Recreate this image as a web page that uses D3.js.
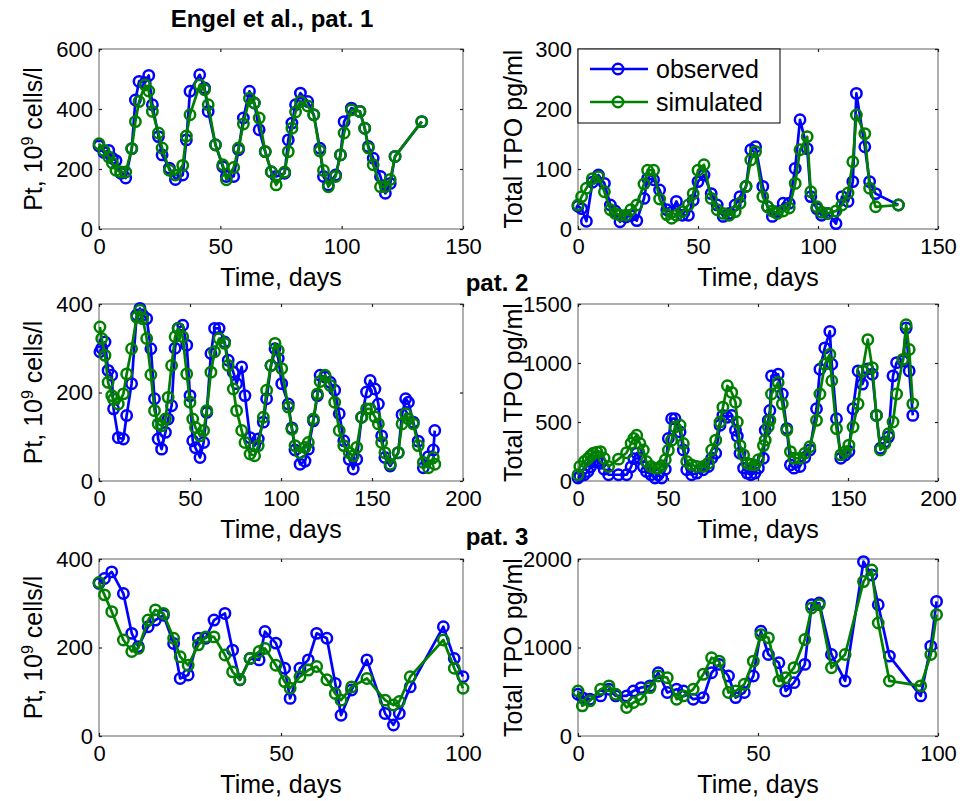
<!DOCTYPE html>
<html>
<head>
<meta charset="utf-8">
<script src="https://cdn.jsdelivr.net/npm/d3@7"></script>
<style>
  body { margin: 0; background: #fff; }
  text { font-family: "Liberation Sans", Arial, Helvetica, sans-serif; fill: #000; }
</style>
</head>
<body>
<svg id="fig" width="972" height="801"></svg>
<script>
// ---- Patient 1: platelet counts (10^9 cells/l) ----
const p1Days = [0,2,4,5.5,7,9,11,13.5,15,16.5, 19,20.5,22,24.5,26,29,31.5,34.5,36,37.5,
  41.5,43.5,45,48,51,52.5,55.5,57.5,59.5,62, 64,66,68.5,71,73,76.5,78,79.5,81,83,
  86,88.5,91,92.5,94.5,97.5,99.5,101,104,107.5, 109.5,111,113,116,118,120,122,133];
const p1Obs = [277,255,262,236,228,186,170,268,430,492, 488,512,414,308,247,203,165,180,297,459,
  514,470,392,281,208,175,175,264,370,459, 420,331,258,191,175,186,297,353,414,453,
  425,381,269,175,147,180,247,358,403,392, 336,275,236,175,119,152,242,358];
const p1Sim = [284,262,240,220,196,190,190,268,358,425, 480,460,392,320,270,196,180,212,310,381,
  480,464,414,280,214,164,205,270,350,436, 420,370,258,190,147,190,258,336,390,425,
  410,380,260,195,141,175,247,320,397,392, 336,270,214,141,141,165,242,358];

// ---- Patient 1: total TPO (pg/ml) ----
const p2Days = [0,1.5,3.5,6,8.5,11,13.5,15.5,17.5,20, 22,24.5,27.5,29,31.5,34,37,39,41,43.5,
  46,48,50,52.5,55.5,58,60.5,63,65.5,67.5, 70,72,74,77,79,81,83,85.5,88,90.5,
  92.5,95.5,97,99.5,101.5,104,107.5,110,112.5,114.5, 116,119.5,121.5,124,133.5];
const p2Obs = [38,34,13,78,90,76,40,30,12,20, 22,14,51,84,82,65,32,28,46,23,
  23,48,79,90,59,40,21,26,40,54, 71,132,137,71,37,21,29,43,43,101,
  182,134,54,34,23,26,9,54,46,79, 226,137,79,59,40];
const p2Sim = [40,54,68,84,87,62,32,26,23,23, 32,40,75,98,98,50,24,18,23,29,
  40,59,98,107,51,32,26,23,29,43, 71,115,129,54,37,30,26,30,35,76,
  132,154,62,37,28,26,30,40,60,112, 190,159,68,37,40];

// ---- Patient 2: platelet counts ----
const p3Days = [0.5,1.5,3.3,5,7,8,10.6,13.4,15.2,17.9, 20.7,22.5,24,26.2,28.5,30.5,32.5,34.4,36.5,38,
  39.9,41.8,43.5,46,48.2,50,51.5,53,55.5,57.5, 59.2,61.5,63.5,66,69,71,73.8,75.6,78.4,80.2,
  83,85.5,87.5,90.3,92.1,94.5,96.7,98.5,100.4,104, 106,107.7,110.5,113.2,115,117.8,120,121.5,124.2,127,
  129.5,132,134.5,137.5,139.7,141.6,144.3,147,149,151.6, 153.5,155.3,157.1,160,164.4,166.5,168.5,170,172.7,175.4,
  178.2,181,183.7,184.5];
const p3Obs = [292,300,314,250,239,163,98,95,148,220, 375,390,375,367,299,186,95,72,110,140,
  170,300,345,352,307,193,91,75,53,87, 155,288,345,345,314,273,246,220,258,193,
  98,80,95,133,186,261,299,277,220,174, 120,70,38,45,72,136,193,239,235,223,
  205,152,91,49,27,49,144,201,227,208, 174,102,53,34,64,150,186,178,133,90,
  30,55,70,114];
const p3Sim = [348,322,284,223,193,185,174,197,242,299, 370,386,367,322,240,159,129,125,140,189,
  261,326,345,326,242,178,140,121,102,114, 159,246,292,322,311,261,208,159,114,87,
  61,57,80,144,205,261,311,295,254,167, 117,80,64,76,87,140,197,225,239,216,
  178,114,80,64,57,76,144,163,163,145, 129,87,64,38,64,129,152,140,129,80,
  42,30,53,38];

// ---- Patient 2: total TPO ----
const p4Days = [0,1,3.5,5.5,7,8.5,10.5,12.5,14.5,17, 22.5,27,29.5,31,32.6,34.4,36.3,38,40.5,42.8,
  44.6,46.5,48.5,50.2,52,53.9,56.7,58.5,60.4,63.1, 66,69.6,72.4,74.3,76.5,78.9,80.5,83,85.4,87.5,
  88.5,90,92,94,96,98.3,100.2,103,104,105.7, 106.6,107.5,111.2,113.5,116,118,120,123.3,126,128.8,
  132.5,134.4,137.1,139.9,141,143.6,146,148.5,150.5,152.8, 155.6,158,161,163.5,165.8,168,170.5,172.5,175,177,
  180.5,182.3,184,186];
const p4Obs = [25,40,53,81,120,165,170,151,100,53, 53,53,120,190,235,193,120,81,53,25,
  53,25,100,360,528,528,416,263,95,53, 67,95,123,193,235,472,556,540,556,430,
  380,235,109,67,53,67,109,193,430,514, 598,891,905,737,444,137,109,123,200,263,
  612,947,1128,1268,989,528,193,220,250,612, 933,821,950,905,556,277,330,374,891,1003,
  1017,1296,933,556];
const p4Sim = [53,123,165,190,215,235,245,249,193,123, 185,240,320,360,388,318,263,165,123,109,
  109,130,180,260,346,458,472,318,165,137, 123,123,151,263,346,500,626,807,751,668,
  500,300,221,151,140,137,180,300,346,460, 514,737,835,654,430,249,193,193,235,290,
  514,737,989,1073,850,444,221,249,304,458, 654,933,1198,961,556,263,318,400,500,737,
  1031,1324,1114,654];

// ---- Patient 3: platelet counts ----
const p5Days = [0,1.5,3.5,6.7,9,10.8,13.5,15.5,17.7,20.5, 22.3,24.5,27.3,29.3,31.6,34.6,36.7,38.7,41.5,44,
  45.6,48.6,51,52.5,55.2,57.5,59.8,62.6,64.9,66.5, 69.4,73.6,78.6,80.9,82.5,85.5,94.6,97.6,100];
const p5Obs = [345,356,371,322,232,202,247,262,273,209, 130,138,221,221,262,277,194,127,175,172,
  236,210,153,85,153,172,232,221,119,47, 104,172,51,25,51,111,247,175,134];
const p5Sim = [347,319,281,217,191,198,262,285,277,221, 179,160,206,224,224,183,145,127,175,191,
  198,160,123,108,134,149,157,127,96,81, 111,130,81,70,78,134,217,153,108];

// ---- Patient 3: total TPO ----
const p6Days = [0,1.2,3.3,6.3,8.6,10.5,13.5,15.4,17.5,20, 22.3,24.8,27.4,29.3,32,34.8,37.1,39.2,41.8,43.8,
  46.2,48.7,50.8,52.9,55.8,57.7,60,63,64.9,67, 70.4,74.2,79.3,81.6,83.4,86.5,95.2,98,99.6];
const p6Obs = [472,434,416,453,528,453,453,509,547,566, 715,491,528,509,416,434,715,809,678,434,
  491,678,1184,921,828,509,603,809,1483,1502, 921,622,1970,1820,1483,903,453,1015,1521];
const p6Sim = [509,341,397,528,566,472,322,378,416,547, 678,659,416,453,528,697,884,846,491,509,
  584,846,1146,1109,622,659,772,1090,1446,1483, 772,921,1745,1876,1277,622,566,921,1371];

// ---- tick values ----
const xTicks150 = [0, 50, 100, 150];
const xTicks200 = [0, 50, 100, 150, 200];
const xTicks100 = [0, 50, 100];
const yTicksPt600 = [0, 200, 400, 600];
const yTicksPt400 = [0, 200, 400];
const yTicksTpo300 = [0, 100, 200, 300];
const yTicksTpo1500 = [0, 500, 1000, 1500];
const yTicksTpo2000 = [0, 1000, 2000];

const seriesNames = ["observed", "simulated"];
const seriesColors = ["#0000ff", "#008000"];

// Layout of the 3x2 grid of axes
const colX = [[99, 463], [578, 938]];
const rowY = [[229, 49], [481, 304], [736, 559]];

const panels = [
  { days: p1Days, obs: p1Obs, sim: p1Sim, xMax: 150, xt: xTicks150, yMax: 600, yt: yTicksPt600, col: 0, row: 0, kind: "pt" },
  { days: p2Days, obs: p2Obs, sim: p2Sim, xMax: 150, xt: xTicks150, yMax: 300, yt: yTicksTpo300, col: 1, row: 0, kind: "tpo", legend: true },
  { days: p3Days, obs: p3Obs, sim: p3Sim, xMax: 200, xt: xTicks200, yMax: 400, yt: yTicksPt400, col: 0, row: 1, kind: "pt" },
  { days: p4Days, obs: p4Obs, sim: p4Sim, xMax: 200, xt: xTicks200, yMax: 1500, yt: yTicksTpo1500, col: 1, row: 1, kind: "tpo" },
  { days: p5Days, obs: p5Obs, sim: p5Sim, xMax: 100, xt: xTicks100, yMax: 400, yt: yTicksPt400, col: 0, row: 2, kind: "pt" },
  { days: p6Days, obs: p6Obs, sim: p6Sim, xMax: 100, xt: xTicks100, yMax: 2000, yt: yTicksTpo2000, col: 1, row: 2, kind: "tpo" }
];

const svg = d3.select("#fig");
const tickFont = 22, labelFont = 25;
const markerR = 5.2, markerW = 2.5, lineW = 2.7;

panels.forEach(p => {
  const [x0, x1] = colX[p.col];
  const [y0, y1] = rowY[p.row];
  const x = d3.scaleLinear().domain([0, p.xMax]).range([x0, x1]);
  const y = d3.scaleLinear().domain([0, p.yMax]).range([y0, y1]);
  const g = svg.append("g");

  // axes box
  g.append("rect").attr("x", x0).attr("y", y1).attr("width", x1 - x0).attr("height", y0 - y1)
    .attr("fill", "#fff").attr("stroke", "#7a7a7a").attr("stroke-width", 1.2);

  // bottom / left axes with labels, ticks pointing inward
  const bottom = g.append("g").attr("transform", `translate(0,${y0})`)
    .call(d3.axisBottom(x).tickValues(p.xt).tickFormat(d3.format("d")).tickSizeInner(-3).tickSizeOuter(0).tickPadding(8));
  const left = g.append("g").attr("transform", `translate(${x0},0)`)
    .call(d3.axisLeft(y).tickValues(p.yt).tickFormat(d3.format("d")).tickSizeInner(-3).tickSizeOuter(0).tickPadding(6));
  // mirrored ticks on top / right
  const top = g.append("g").attr("transform", `translate(0,${y1})`)
    .call(d3.axisTop(x).tickValues(p.xt).tickFormat("").tickSizeInner(-3).tickSizeOuter(0));
  const right = g.append("g").attr("transform", `translate(${x1},0)`)
    .call(d3.axisRight(y).tickValues(p.yt).tickFormat("").tickSizeInner(-3).tickSizeOuter(0));
  [bottom, left, top, right].forEach(a => {
    a.select(".domain").remove();
    a.selectAll(".tick line").attr("stroke", "#222").attr("stroke-width", 1.2);
    a.selectAll(".tick text").attr("font-size", tickFont).attr("font-family", "Liberation Sans, Arial, sans-serif").attr("fill", "#000");
  });
  bottom.selectAll(".tick text").attr("dy", "0.78em");

  // x label
  g.append("text").attr("x", (x0 + x1) / 2).attr("y", y0 + 57)
    .attr("text-anchor", "middle").attr("font-size", labelFont).text("Time, days");

  // y label
  const ly = (y0 + y1) / 2;
  const lx = p.col === 0 ? 42 : 522;
  const yl = g.append("text").attr("transform", `translate(${lx},${ly}) rotate(-90)`)
    .attr("text-anchor", "middle").attr("font-size", labelFont);
  if (p.kind === "pt") {
    yl.append("tspan").text("Pt, 10");
    yl.append("tspan").attr("font-size", 16).attr("dy", -9).text("9");
    yl.append("tspan").attr("dy", 9).text(" cells/l");
  } else {
    yl.text("Total TPO pg/ml");
  }

  // series: observed first, simulated on top
  const series = [p.obs, p.sim];
  series.forEach((vals, i) => {
    const pts = p.days.map((d, k) => [d, vals[k]]);
    const line = d3.line().x(d => x(d[0])).y(d => y(d[1]));
    g.append("path").datum(pts).attr("d", line)
      .attr("fill", "none").attr("stroke", seriesColors[i]).attr("stroke-width", lineW)
      .attr("stroke-linejoin", "round");
    g.append("g").selectAll("circle").data(pts).join("circle")
      .attr("cx", d => x(d[0])).attr("cy", d => y(d[1])).attr("r", markerR)
      .attr("fill", "none").attr("stroke", seriesColors[i]).attr("stroke-width", markerW);
  });

  if (p.legend) {
    const lg = g.append("g");
    const bx = x0, by = y1, bw = 202, bh = 74;
    lg.append("rect").attr("x", bx).attr("y", by).attr("width", bw).attr("height", bh)
      .attr("fill", "#fff").attr("stroke", "#000").attr("stroke-width", 1);
    seriesNames.forEach((name, i) => {
      const ry = by + 20 + i * 33;
      lg.append("line").attr("x1", bx + 12).attr("x2", bx + 70).attr("y1", ry).attr("y2", ry)
        .attr("stroke", seriesColors[i]).attr("stroke-width", lineW);
      lg.append("circle").attr("cx", bx + 40).attr("cy", ry).attr("r", markerR)
        .attr("fill", "none").attr("stroke", seriesColors[i]).attr("stroke-width", markerW);
      lg.append("text").attr("x", bx + 78).attr("y", ry).attr("dy", "0.35em")
        .attr("font-size", labelFont).text(name);
    });
  }
});

// panel group titles
const titles = [
  { text: "Engel et al., pat. 1", x: 272, y: 27 },
  { text: "pat. 2", x: 497, y: 291 },
  { text: "pat. 3", x: 497, y: 545 }
];
svg.selectAll("text.title").data(titles).join("text").attr("class", "title")
  .attr("x", d => d.x).attr("y", d => d.y).attr("text-anchor", "middle")
  .attr("font-size", 24).attr("font-weight", "bold").text(d => d.text);
</script>
</body>
</html>
